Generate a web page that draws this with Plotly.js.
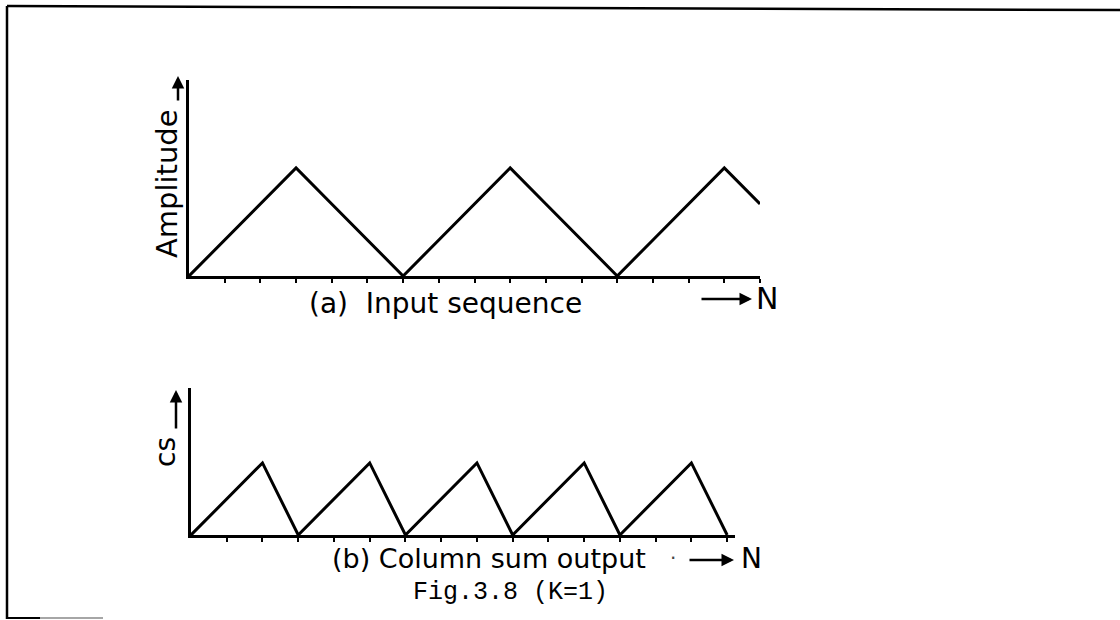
<!DOCTYPE html>
<html>
<head>
<meta charset="utf-8">
<script src="https://cdn.plot.ly/plotly-3.0.1.min.js"></script>
<style>
  html, body { margin: 0; padding: 0; background: #fff; }
  #fig { width: 1120px; height: 620px; }
</style>
</head>
<body>
<div id="fig"></div>
<script>
// (a) input sequence: triangular wave sampled at each N
const nInput = [0, 1, 2, 3, 4, 5, 6, 7, 8, 9, 10, 11, 12, 13, 14, 15, 16];
const inputAmplitude = [0, 1, 2, 3, 2, 1, 0, 1, 2, 3, 2, 1, 0, 1, 2, 3, 2];

// (b) column sum output for K = 1
const nOutput = [0, 1, 2, 3, 4, 5, 6, 7, 8, 9, 10, 11, 12, 13, 14, 15];
const columnSum = [0, 1, 2, 0, 1, 2, 0, 1, 2, 0, 1, 2, 0, 1, 2, 0];

// tick positions along N
const inputTicks = nInput.slice(1);
const outputTicks = nOutput.slice(1);

const W = 1120, H = 620;
const px = v => v / W;          // pixel column -> paper x
const py = v => 1 - v / H;      // pixel row -> paper y

const sans = 'DejaVu Sans, sans-serif';
const ink = '#000';

const traces = [
  {
    x: nInput, y: inputAmplitude, xaxis: 'x', yaxis: 'y',
    type: 'scatter', mode: 'lines',
    line: { color: ink, width: 3 }, hoverinfo: 'skip'
  },
  {
    x: nOutput, y: columnSum, xaxis: 'x2', yaxis: 'y2',
    type: 'scatter', mode: 'lines',
    line: { color: ink, width: 3 }, hoverinfo: 'skip'
  }
];

const axisBase = {
  showline: true, linecolor: ink, linewidth: 3,
  showgrid: false, zeroline: false, showticklabels: false,
  fixedrange: true
};

// centred text label placed at a pixel position
function label(text, x, y, size, opts) {
  return Object.assign({
    text: text, xref: 'paper', yref: 'paper', x: px(x), y: py(y),
    xanchor: 'center', yanchor: 'middle', showarrow: false,
    font: { family: sans, size: size, color: ink }
  }, opts || {});
}

// arrow whose head sits at (x, y), tail offset by (ax, ay) pixels
function arrow(x, y, ax, ay) {
  return {
    xref: 'paper', yref: 'paper', x: px(x), y: py(y), ax: ax, ay: ay,
    text: '', showarrow: true, arrowhead: 2, arrowsize: 1, arrowwidth: 2.5, arrowcolor: ink
  };
}

const layout = {
  width: W, height: H,
  margin: { l: 0, r: 0, t: 0, b: 0 },
  paper_bgcolor: '#fff', plot_bgcolor: 'rgba(0,0,0,0)',
  showlegend: false,
  xaxis: Object.assign({}, axisBase, {
    domain: [px(189), px(760)], range: [0, 16], anchor: 'y',
    tickvals: inputTicks, ticks: 'outside', ticklen: 4, tickwidth: 2, tickcolor: ink
  }),
  yaxis: Object.assign({}, axisBase, {
    domain: [py(276), py(80)], range: [0, 5.44], anchor: 'x', ticks: ''
  }),
  xaxis2: Object.assign({}, axisBase, {
    domain: [px(191), px(735)], range: [0, 15.22], anchor: 'y2',
    tickvals: outputTicks, ticks: 'outside', ticklen: 4, tickwidth: 2, tickcolor: ink
  }),
  yaxis2: Object.assign({}, axisBase, {
    domain: [py(535), py(388)], range: [0, 4.08], anchor: 'x2', ticks: ''
  }),
  shapes: [
    // drawing frame
    { type: 'line', xref: 'paper', yref: 'paper', x0: px(7), y0: py(6), x1: px(1120), y1: py(10),
      line: { color: ink, width: 2.5 } },
    { type: 'line', xref: 'paper', yref: 'paper', x0: px(7), y0: py(6), x1: px(7), y1: py(619),
      line: { color: ink, width: 2.5 } },
    { type: 'line', xref: 'paper', yref: 'paper', x0: px(7), y0: py(618), x1: px(40), y1: py(618),
      line: { color: ink, width: 2 } },
    { type: 'line', xref: 'paper', yref: 'paper', x0: px(40), y0: py(618), x1: px(103), y1: py(618),
      line: { color: '#888', width: 1.5 } }
  ],
  annotations: [
    // y labels with upward arrows
    label('Amplitude', 167, 184, 29, { textangle: -90 }),
    arrow(178, 76, 0, 26),
    label('cs', 165, 452, 28, { textangle: -90 }),
    arrow(176, 390, 0, 40),

    // captions under the axes
    label('(a)  Input sequence', 445, 304, 28),
    arrow(752, 299, -52, 0),
    label('N', 767, 299, 30),

    label('(b) Column sum output', 489, 558, 27),
    label('·', 673, 558, 20, { font: { family: sans, size: 20, color: '#444' } }),
    arrow(734, 560, -46, 0),
    label('N', 751, 558, 28),

    label('Fig.3.8 (K=1)', 510, 592, 25, { font: { family: 'Liberation Mono, monospace', size: 25, color: ink } })
  ]
};

Plotly.newPlot('fig', traces, layout, { staticPlot: true, displayModeBar: false });
</script>
</body>
</html>
